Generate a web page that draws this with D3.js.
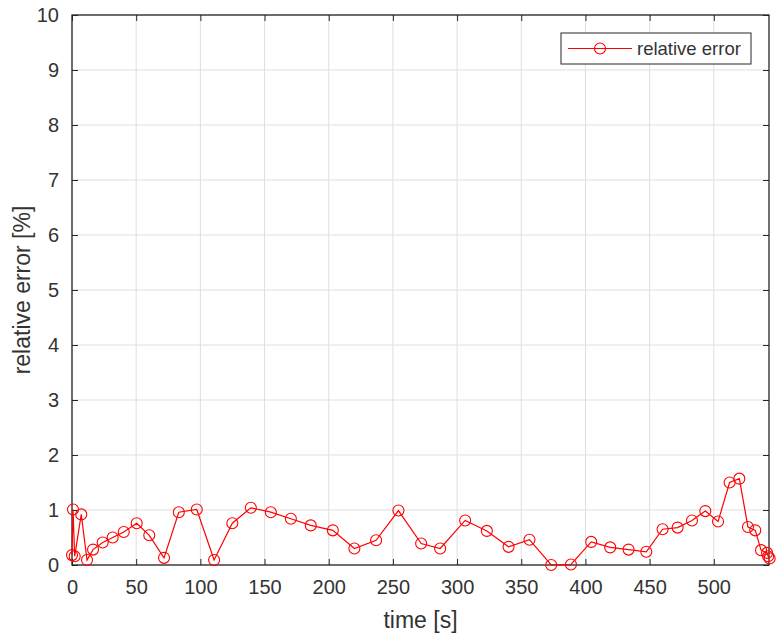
<!DOCTYPE html>
<html>
<head>
<meta charset="utf-8">
<script src="https://cdn.jsdelivr.net/npm/d3@7"></script>
<style>
  body { margin: 0; background: #fff; }
  svg { display: block; font-family: "Liberation Sans", Arial, sans-serif; }
</style>
</head>
<body>
<div id="chart"></div>
<script>
// time [s] and relative error [%]
const timeS = [0, 0.8, 2.1, 7.2, 11.7, 16.4, 23.9, 31.7, 40.3, 50.4, 60.2, 71.7, 83.2, 97.2,
  110.7, 124.9, 139.3, 154.9, 170.5, 186.0, 203.2, 220.0, 236.9, 254.3, 272.0, 286.8,
  306.3, 323.2, 340.1, 356.4, 373.3, 388.7, 404.5, 419.3, 433.6, 447.4, 460.1, 471.8,
  483.0, 493.4, 503.3, 512.3, 519.9, 526.6, 532.3, 536.8, 541.5, 542.3, 543.5];
const relError = [0.18, 1.01, 0.16, 0.92, 0.09, 0.28, 0.41, 0.50, 0.60, 0.76, 0.54, 0.13, 0.96, 1.01,
  0.09, 0.76, 1.04, 0.96, 0.84, 0.72, 0.63, 0.30, 0.45, 0.99, 0.39, 0.30,
  0.81, 0.62, 0.33, 0.46, 0.0, 0.01, 0.42, 0.32, 0.28, 0.24, 0.65, 0.68,
  0.81, 0.98, 0.79, 1.50, 1.57, 0.69, 0.63, 0.27, 0.22, 0.16, 0.12];
const xTicks = [0, 50, 100, 150, 200, 250, 300, 350, 400, 450, 500];
const yTicks = [0, 1, 2, 3, 4, 5, 6, 7, 8, 9, 10];
const seriesName = "relative error";

const W = 782, H = 640;
const margin = { top: 15, right: 13, bottom: 75, left: 72 };
const width = W - margin.left - margin.right;
const height = H - margin.top - margin.bottom;
const axisColor = "#262626";
const textColor = "#333";
const tickLen = 6;

const data = timeS.map((t, i) => ({ t: t, v: relError[i] }));

const svg = d3.select("#chart").append("svg")
  .attr("width", W)
  .attr("height", H);

const g = svg.append("g")
  .attr("transform", `translate(${margin.left},${margin.top})`);

const x = d3.scaleLinear().domain([0, 543]).range([0, width]);
const y = d3.scaleLinear().domain([0, 10]).range([height, 0]);

// grid
g.append("g").selectAll("line.vx").data(xTicks).join("line")
  .attr("x1", d => x(d)).attr("x2", d => x(d))
  .attr("y1", 0).attr("y2", height)
  .attr("stroke", "#dfdfdf").attr("stroke-width", 1);
g.append("g").selectAll("line.hy").data(yTicks).join("line")
  .attr("y1", d => y(d)).attr("y2", d => y(d))
  .attr("x1", 0).attr("x2", width)
  .attr("stroke", "#dfdfdf").attr("stroke-width", 1);

// axes (ticks inside, like matlab)
function styleAxis(sel, hideText) {
  sel.select(".domain").remove();
  sel.selectAll(".tick line").attr("stroke", axisColor);
  sel.selectAll(".tick text")
    .attr("fill", textColor)
    .style("font-size", "20px");
  if (hideText) sel.selectAll(".tick text").remove();
}

g.append("g")
  .attr("transform", `translate(0,${height})`)
  .call(d3.axisBottom(x).tickValues(xTicks).tickSizeInner(-tickLen).tickPadding(tickLen + 9))
  .call(s => styleAxis(s, false));
g.append("g")
  .call(d3.axisTop(x).tickValues(xTicks).tickSizeInner(-tickLen))
  .call(s => styleAxis(s, true));
g.append("g")
  .call(d3.axisLeft(y).tickValues(yTicks).tickSizeInner(-tickLen).tickPadding(tickLen + 7))
  .call(s => styleAxis(s, false));
g.append("g")
  .attr("transform", `translate(${width},0)`)
  .call(d3.axisRight(y).tickValues(yTicks).tickSizeInner(-tickLen))
  .call(s => styleAxis(s, true));

// box
g.append("rect")
  .attr("x", 0).attr("y", 0)
  .attr("width", width).attr("height", height)
  .attr("fill", "none")
  .attr("stroke", axisColor)
  .attr("stroke-width", 1.3);

// the series
g.append("path")
  .datum(data)
  .attr("fill", "none")
  .attr("stroke", "#ff0000")
  .attr("stroke-width", 1.2)
  .attr("d", d3.line().x(d => x(d.t)).y(d => y(d.v)));

g.append("g").selectAll("circle").data(data).join("circle")
  .attr("cx", d => x(d.t))
  .attr("cy", d => y(d.v))
  .attr("r", 5.5)
  .attr("fill", "none")
  .attr("stroke", "#ff0000")
  .attr("stroke-width", 1.1);

// axis labels
svg.append("text")
  .attr("x", margin.left + width / 2)
  .attr("y", 628)
  .attr("text-anchor", "middle")
  .attr("fill", textColor)
  .style("font-size", "23px")
  .text("time [s]");

svg.append("text")
  .attr("transform", `translate(30,${margin.top + height / 2}) rotate(-90)`)
  .attr("text-anchor", "middle")
  .attr("fill", textColor)
  .style("font-size", "23px")
  .text("relative error [%]");

// legend
const lg = svg.append("g").attr("transform", "translate(561,33)");
lg.append("rect")
  .attr("width", 190).attr("height", 31)
  .attr("fill", "#fff")
  .attr("stroke", axisColor)
  .attr("stroke-width", 1);
lg.append("line")
  .attr("x1", 7).attr("x2", 71)
  .attr("y1", 15.5).attr("y2", 15.5)
  .attr("stroke", "#ff0000").attr("stroke-width", 1.2);
lg.append("circle")
  .attr("cx", 39).attr("cy", 15.5).attr("r", 5.5)
  .attr("fill", "none").attr("stroke", "#ff0000").attr("stroke-width", 1.1);
lg.append("text")
  .attr("x", 76).attr("y", 22)
  .attr("fill", textColor)
  .style("font-size", "18.5px")
  .text(seriesName);
</script>
</body>
</html>
